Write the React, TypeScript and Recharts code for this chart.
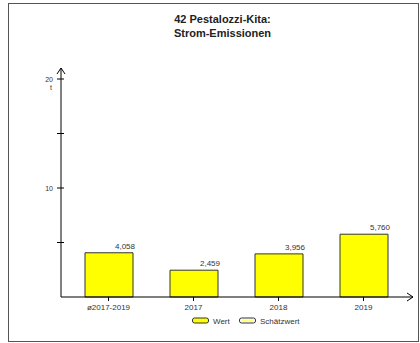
import React from 'react';
import { BarChart, Bar, XAxis, YAxis, LabelList } from 'recharts';

const categories = ['ø2017-2019', '2017', '2018', '2019'];
const wertValues = [4.058, 2.459, 3.956, 5.76];
const yTicks = [0, 5, 10, 15, 20];
const yLabelTicks = [10, 20];
const yUnit = 't';
const titleLines = ['42 Pestalozzi-Kita:', 'Strom-Emissionen'];
const legendItems = ['Wert', 'Schätzwert'];

const data = categories.map((c, i) => ({ name: c, Wert: wertValues[i] }));

const FONT = '"Liberation Sans", Arial, sans-serif';

const fmt = (v: number) => v.toFixed(3).replace('.', ',');

const YTick = (props: any) => {
  const { x, y, payload } = props;
  const v = payload.value;
  if (v === 0) return null;
  return (
    <g>
      <line x1={x - 4} x2={x + 3} y1={y} y2={y} stroke="#000" strokeWidth={1} />
      {yLabelTicks.includes(v) && (
        <text x={x - 8} y={y + 2.5} textAnchor="end" fontSize={7} fontFamily={FONT} fill="#333">
          {v}
        </text>
      )}
      {v === 20 && (
        <text x={x - 9} y={y + 10.5} textAnchor="end" fontSize={7} fontFamily={FONT} fill="#333">
          {yUnit}
        </text>
      )}
    </g>
  );
};

const XTick = (props: any) => {
  const { x, y, payload } = props;
  return (
    <g>
      <line x1={x} x2={x} y1={y} y2={y + 4} stroke="#000" strokeWidth={1} />
      <text x={x} y={y + 13} textAnchor="middle" fontSize={8} fontFamily={FONT} fill="#333">
        {payload.value}
      </text>
    </g>
  );
};

const BarValueLabel = (props: any) => {
  const { x, y, width, value } = props;
  return (
    <text x={x + width + 2} y={y - 4} textAnchor="end" fontSize={8} fontFamily={FONT} fill="#333">
      {fmt(value)}
    </text>
  );
};

export default function App() {
  return (
    <div style={{ position: 'absolute', left: 0, top: 0, width: 420, height: 343, background: '#fff' }}>
      <svg width={0} height={0} style={{ position: 'absolute' }}>
        <defs>
          <marker id="arrowHead" markerUnits="userSpaceOnUse" markerWidth={10} markerHeight={10}
            viewBox="0 0 10 10" refX={8} refY={5} orient="auto-start-reverse">
            <path d="M2,1 L8,5 L2,9" fill="none" stroke="#000" strokeWidth={1} />
          </marker>
        </defs>
      </svg>
      <div style={{ position: 'absolute', left: 8, top: 3, width: 409, height: 337, border: '1px solid #555' }} />
      <div style={{ position: 'absolute', left: 122, top: 13, width: 201, textAlign: 'center', fontFamily: FONT, fontWeight: 'bold', fontSize: 11, lineHeight: '13.5px', color: '#222' }}>
        {titleLines.map((t) => (<div key={t}>{t}</div>))}
      </div>
      <div style={{ position: 'absolute', left: 0, top: 0 }}>
        <BarChart width={420} height={343} data={data} margin={{ top: 68, right: 7, bottom: 0, left: 1 }}>
          <XAxis dataKey="name" height={46} padding={{ left: 5, right: 7 }} tickSize={0} tickMargin={0}
            tickLine={false} axisLine={{ stroke: '#000', strokeWidth: 1, markerEnd: 'url(#arrowHead)' } as any}
            tick={<XTick />} interval={0} />
          <YAxis type="number" domain={[0, 20]} ticks={yTicks} width={60} padding={{ top: 11, bottom: 0 }}
            tickSize={0} tickMargin={0} tickLine={false}
            axisLine={{ stroke: '#000', strokeWidth: 1, markerStart: 'url(#arrowHead)' } as any}
            tick={<YTick />} interval={0} />
          <Bar dataKey="Wert" fill="#ffff00" stroke="#333" strokeWidth={1} barSize={48} isAnimationActive={false}>
            <LabelList dataKey="Wert" content={<BarValueLabel />} />
          </Bar>
        </BarChart>
      </div>
      <svg width={420} height={343} style={{ position: 'absolute', left: 0, top: 0, pointerEvents: 'none' }}>
        {legendItems.map((name, i) => {
          const x0 = i === 0 ? 192 : 239;
          return (
            <g key={name}>
              <rect x={x0 + 0.5} y={318} width={16} height={5} rx={2} fill={i === 0 ? '#ffff00' : '#fff'}
                stroke="#333" strokeWidth={1} />
              {i === 1 && <rect x={x0 + 2} y={319.5} width={13} height={2} fill="#ffff80" />}
              <text x={x0 + 21} y={323.5} fontSize={8} fontFamily={FONT} fill="#333">{name}</text>
            </g>
          );
        })}
      </svg>
    </div>
  );
}
